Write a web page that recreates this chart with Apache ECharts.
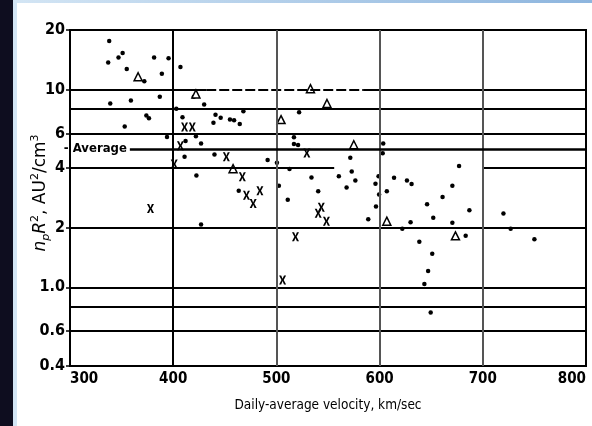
<!DOCTYPE html>
<html>
<head>
<meta charset="utf-8">
<script src="https://cdn.jsdelivr.net/npm/echarts@6/dist/echarts.min.js"></script>
<style>
  html, body { margin: 0; padding: 0; background: #fff; }
  #wrap { position: relative; width: 592px; height: 426px; overflow: hidden; background: #fff; }
  #edgeDark { position: absolute; left: 0; top: 0; width: 13px; height: 426px; background: #0e0d1f; }
  #edgeLight { position: absolute; left: 13px; top: 0; width: 4px; height: 426px; background: #d3e5f4; }
  #edgeTop { position: absolute; left: 13px; top: 0; width: 579px; height: 3px; background: linear-gradient(90deg, #d3e5f4, #8db5de); }
  #chart { position: absolute; left: 0; top: 0; width: 592px; height: 426px; }
</style>
</head>
<body>
<div id="wrap">
  <div id="edgeDark"></div>
  <div id="edgeLight"></div>
  <div id="edgeTop"></div>
  <div id="chart"></div>
</div>
<script>
// Axis ticks
const velocityTicks = [300, 400, 500, 600, 700, 800];
const densityTicks = [0.4, 0.6, 1, 2, 4, 6, 10, 20];
const densityTickLabels = ['0.4', '0.6', '1.0', '2', '4', '6', '10', '20'];

// Reference levels
const densityLevels = [8, 6, 2, 1, 0.8, 0.6];
const velocityLevels = [400, 500, 600, 700];
const averageLevel = 5;

// Observations: [daily-average velocity (km/sec), n_p R^2 (AU^2/cm^3)]
const dotPoints = [
  [338, 17.6], [337, 13.7], [347, 14.5], [351, 15.3], [355, 12.7], [381.5, 14.5], [395.5, 14.4], [407, 13.0],
  [372, 11.0], [389, 12.0], [339, 8.5], [359, 8.8], [387, 9.2], [420, 9.2], [430, 8.4], [403, 8.0],
  [374, 7.4], [376.5, 7.15], [353, 6.5], [409, 7.25], [441, 7.45], [446, 7.2], [439, 6.8], [455, 7.05],
  [459, 7.0], [464.5, 6.7], [468, 7.76], [394, 5.75], [422, 5.8], [427, 5.33], [412, 5.5], [411, 4.57],
  [440, 4.7], [422.5, 3.68], [463.5, 3.08], [491.5, 4.4], [500.5, 4.26], [502.4, 3.26], [511, 2.77], [512.7, 3.96],
  [517, 5.73], [521, 5.24], [517, 5.3], [522, 7.67], [534, 3.59], [540.5, 3.06], [560.5, 3.64], [568, 3.2],
  [571.6, 4.52], [573, 3.85], [576.5, 3.47], [596, 3.34], [599, 3.64], [603.5, 5.33], [603, 4.76], [607, 3.06],
  [614, 3.58], [626.5, 3.47], [631, 3.33], [596.5, 2.56], [589, 2.21], [599.5, 2.95], [630, 2.13], [622, 1.98],
  [646, 2.63], [661, 2.86], [687, 2.45], [652, 2.25], [670.5, 2.12], [677, 4.11], [670.5, 3.26], [720, 2.36],
  [727, 1.98], [683.4, 1.82], [638.5, 1.70], [750, 1.75], [651, 1.48], [647, 1.21], [643.4, 1.04], [649.5, 0.745],
  [427, 2.08]
];
const crossPoints = [
  [378, 2.5], [411, 6.46], [418.5, 6.46], [407, 5.2], [401, 4.2], [451.5, 4.57], [467, 3.62], [471, 2.92],
  [477.5, 2.65], [484, 3.08], [529.5, 4.77], [543.5, 2.54], [540.5, 2.37], [548.5, 2.16], [518.5, 1.8], [506, 1.09]
];
const trianglePoints = [
  [366, 11.6], [422, 9.5], [458, 3.98], [504.5, 7.05], [533, 10.1], [549, 8.5], [575, 5.26], [607, 2.16], [673.5, 1.82]
];

// Layout of the ruled lines that do not run the full width
const averageStart = 358;
const level10Pieces = [[300, 432, 'solid'], [432, 584, 'dashed'], [584, 800, 'solid']];
const level4Pieces = [[300, 556, 'solid'], [700, 800, 'solid']];
const narrowFont = '"Liberation Sans Narrow", "DejaVu Sans Condensed", sans-serif';
const titleFont = '"DejaVu Sans", sans-serif';

const crossPath = 'path://M0,0L3,0L5,4.5L7,0L10,0L6.6,6L10,12L7,12L5,7.5L3,12L0,12L3.4,6Z';

function tickText(v) {
  const i = densityTicks.findIndex(t => Math.abs(t - v) / t < 1e-3);
  return i >= 0 ? densityTickLabels[i] : '';
}

const solidBlack = { color: '#000', width: 2, type: 'solid' };
const ruleLines = [];
densityLevels.forEach(v => ruleLines.push({ yAxis: v, lineStyle: solidBlack }));
function pushPieces(level, pieces) {
  pieces.forEach(p => ruleLines.push([
    {
      coord: [p[0], level],
      lineStyle: p[2] === 'dashed'
        ? { color: '#000', width: 2, type: [10, 3] }
        : solidBlack
    },
    { coord: [p[1], level] }
  ]));
}
pushPieces(10, level10Pieces);
pushPieces(4, level4Pieces);
velocityLevels.forEach(v => ruleLines.push({
  xAxis: v,
  lineStyle: { color: v === 400 ? '#000' : '#555', width: 2, type: 'solid' }
}));
ruleLines.push([
  {
    coord: [averageStart, averageLevel],
    lineStyle: { color: '#000', width: 2.5, type: 'solid' },
    label: {
      show: true, position: 'start', distance: 3, formatter: '- Average',
      color: '#000', fontFamily: narrowFont, fontWeight: 'bold', fontSize: 13
    }
  },
  { coord: [800, averageLevel] }
]);

const chart = echarts.init(document.getElementById('chart'), null, { renderer: 'canvas' });
chart.setOption({
  animation: false,
  backgroundColor: 'transparent',
  grid: { left: 70, top: 30, right: 6, bottom: 60, show: true, borderColor: '#000', borderWidth: 2, backgroundColor: 'transparent' },
  xAxis: {
    type: 'value', min: 300, max: 800, interval: 100,
    name: 'Daily-average velocity, km/sec', nameLocation: 'middle', nameGap: 32, nameMoveOverlap: false,
    nameTextStyle: { color: '#000', fontFamily: narrowFont, fontSize: 13.5 },
    axisLine: { show: true, lineStyle: { color: '#000', width: 2 } },
    axisTick: { show: false },
    splitLine: { show: false },
    axisLabel: {
      color: '#000', fontFamily: narrowFont, fontWeight: 'bold', fontSize: 15, margin: 6,
      alignMinLabel: 'left', alignMaxLabel: 'right',
      customValues: velocityTicks
    }
  },
  yAxis: {
    type: 'log', logBase: 10, min: 0.4, max: 20,
    name: '{i|n}{sub|p}{i|R}{sup|2}{n|, AU}{sup|2}{n|/cm}{sup|3}',
    nameLocation: 'middle', nameGap: 18, nameRotate: 90, nameMoveOverlap: false,
    nameTextStyle: {
      color: '#000', padding: [0, 0, 0, 10],
      rich: {
        i: { fontFamily: titleFont, fontStyle: 'italic', fontSize: 17, lineHeight: 22, color: '#000' },
        n: { fontFamily: titleFont, fontSize: 17, lineHeight: 22, color: '#000' },
        sub: { fontFamily: titleFont, fontStyle: 'italic', fontSize: 11, lineHeight: 11, verticalAlign: 'bottom', color: '#000' },
        sup: { fontFamily: titleFont, fontSize: 11, lineHeight: 11, verticalAlign: 'top', color: '#000' }
      }
    },
    axisLine: { show: true, lineStyle: { color: '#000', width: 2 } },
    axisTick: { show: true, inside: false, length: 4, customValues: densityTicks, lineStyle: { color: '#000', width: 1.5 } },
    minorTick: { show: false },
    splitLine: { show: false },
    axisLabel: {
      color: '#000', fontFamily: narrowFont, fontWeight: 'bold', fontSize: 16, margin: 5,
      customValues: densityTicks, formatter: tickText
    }
  },
  series: [
    {
      name: 'rules', type: 'scatter', data: [], z: 1, silent: true,
      markLine: { silent: true, symbol: ['none', 'none'], label: { show: false }, lineStyle: { type: 'solid' }, data: ruleLines, animation: false }
    },
    {
      name: 'dots', type: 'scatter', data: dotPoints, z: 3, silent: true,
      symbol: 'circle', symbolSize: 4.5, itemStyle: { color: '#000', opacity: 1 }
    },
    {
      name: 'crosses', type: 'scatter', data: crossPoints, z: 3, silent: true,
      symbol: crossPath, symbolSize: [7, 9], itemStyle: { color: '#000', opacity: 1 }
    },
    {
      name: 'triangles', type: 'scatter', data: trianglePoints, z: 3, silent: true,
      symbol: 'triangle', symbolSize: 8, itemStyle: { color: '#fff', borderColor: '#000', borderWidth: 1.5, opacity: 1 }
    }
  ]
});
</script>
</body>
</html>
